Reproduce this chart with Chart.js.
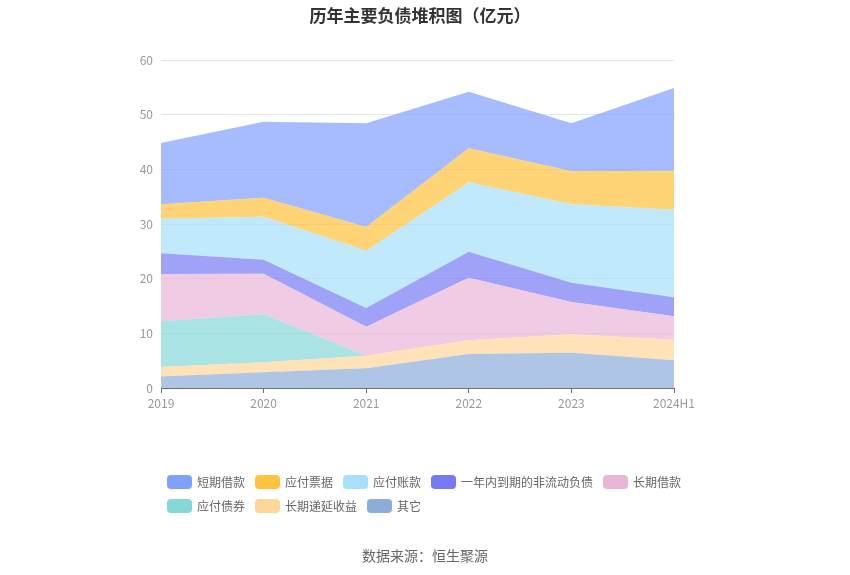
<!DOCTYPE html>
<html>
<head>
<meta charset="utf-8">
<script src="https://cdn.jsdelivr.net/npm/chart.js@4/dist/chart.umd.min.js"></script>
<style>
  body { margin: 0; background: #fff; font-family: "Noto Sans CJK SC", "Noto Sans", sans-serif; }
  #wrap { position: relative; width: 850px; height: 575px; }
  #chart { position: absolute; left: 0; top: 0; }
  #title { position: absolute; top: 2px; left: -5px; width: 850px; text-align: center; font-size: 17px; font-weight: bold; color: #333; }
  #legend { position: absolute; left: 167px; top: 474px; width: 530px; display: flex; flex-wrap: wrap; row-gap: 9px; }
  .item { display: flex; align-items: center; margin-right: 10px; height: 15px; font-size: 12px; color: #666; }
  .box { width: 25px; height: 14px; border-radius: 4px; margin-right: 5px; }
  #source { position: absolute; top: 545px; left: 0; width: 850px; text-align: center; font-size: 14px; color: #666; }
</style>
</head>
<body>
<div id="wrap">
  <canvas id="chart" width="850" height="575"></canvas>
  <div id="title">历年主要负债堆积图（亿元）</div>
  <div id="legend"></div>
  <div id="source">数据来源：恒生聚源</div>
</div>
<script>
// 年份与各项负债（亿元），由下往上堆叠
const anos = ['2019', '2020', '2021', '2022', '2023', '2024H1'];
const qita = [2.12, 2.87, 3.60, 6.22, 6.46, 5.06];
const diyanShouyi = [1.72, 1.83, 2.31, 2.50, 3.36, 3.78];
const yingfuZhaiquan = [8.36, 8.78, 0, 0, 0, 0];
const changqiJiekuan = [8.65, 7.43, 5.31, 11.46, 5.91, 4.27];
const yinianNei = [3.78, 2.57, 3.41, 4.76, 3.54, 3.48];
const yingfuZhangkuan = [6.35, 7.86, 10.49, 12.68, 14.33, 16.03];
const yingfuPiaoju = [2.62, 3.48, 4.33, 6.22, 6.03, 7.14];
const duanqiJiekuan = [11.20, 13.90, 18.96, 10.37, 8.78, 15.12];

// ordem da legenda (de cima para baixo na pilha)
const series = [
  { label: '短期借款', data: duanqiJiekuan, cor: [128, 160, 254] },
  { label: '应付票据', data: yingfuPiaoju, cor: [255, 194, 61] },
  { label: '应付账款', data: yingfuZhangkuan, cor: [166, 224, 251] },
  { label: '一年内到期的非流动负债', data: yinianNei, cor: [119, 123, 243] },
  { label: '长期借款', data: changqiJiekuan, cor: [232, 183, 216] },
  { label: '应付债券', data: yingfuZhaiquan, cor: [134, 215, 216] },
  { label: '长期递延收益', data: diyanShouyi, cor: [255, 214, 153] },
  { label: '其它', data: qita, cor: [139, 173, 218] }
];

const rgb = (c, a) => `rgba(${c[0]},${c[1]},${c[2]},${a})`;

const pilha = series.slice().reverse();
const datasets = pilha.map((s, i) => ({
  label: s.label,
  data: s.data,
  backgroundColor: rgb(s.cor, 0.7),
  borderColor: 'rgba(0,0,0,0)',
  borderWidth: 0,
  pointRadius: 0,
  pointHoverRadius: 0,
  tension: 0,
  fill: i === 0 ? 'origin' : '-1'
}));

new Chart(document.getElementById('chart').getContext('2d'), {
  type: 'line',
  data: { labels: anos, datasets },
  options: {
    responsive: false,
    animation: false,
    layout: { padding: { left: 0, right: 176, top: 60, bottom: 157 } },
    plugins: { legend: { display: false }, tooltip: { enabled: false } },
    scales: {
      x: {
        offset: false,
        afterFit: s => { s.height = 30; },
        grid: { display: true, drawOnChartArea: false, drawTicks: true, tickLength: 5, color: '#6E7079' },
        border: { display: true, color: '#6E7079' },
        ticks: { color: '#999', padding: 3, maxRotation: 0, autoSkip: false, font: { size: 12, family: '"Noto Sans CJK SC", sans-serif' } }
      },
      y: {
        stacked: true,
        min: 0,
        max: 60,
        afterFit: s => { s.width = 161; },
        grid: { color: '#E0E6F1', drawTicks: false },
        border: { display: false },
        ticks: { stepSize: 10, color: '#999', padding: 8, font: { size: 12, family: '"Noto Sans CJK SC", sans-serif' } }
      }
    }
  }
});

const legendEl = document.getElementById('legend');
series.forEach(s => {
  legendEl.innerHTML += `<div class="item"><span class="box" style="background:${rgb(s.cor, 1)}"></span>${s.label}</div>`;
});
</script>
</body>
</html>
